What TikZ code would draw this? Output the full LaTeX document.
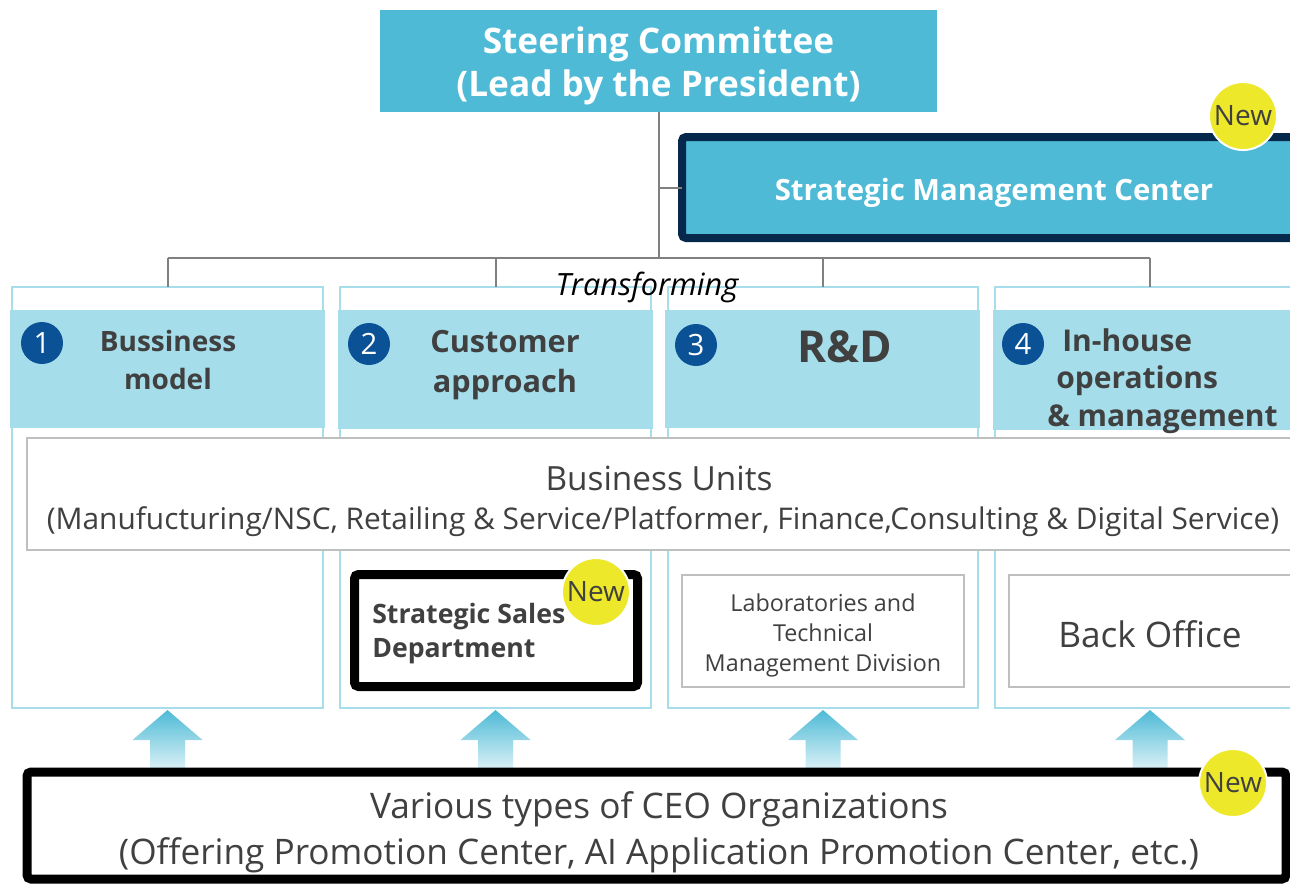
\documentclass[tikz,border=0pt]{standalone}
\usepackage{fontspec}
\setmainfont{Open Sans}
\usetikzlibrary{fit,calc}
\definecolor{cyanD}{HTML}{4EBAD6}
\definecolor{bandC}{HTML}{A5DEEA}
\definecolor{colB}{HTML}{A8DDEB}
\definecolor{navyB}{HTML}{06284A}
\definecolor{numB}{HTML}{0B5196}
\definecolor{yellowC}{HTML}{EDE829}
\definecolor{textG}{HTML}{404040}
\definecolor{lineG}{HTML}{808080}
\definecolor{grayB}{HTML}{BFBFBF}
\definecolor{arrowL}{HTML}{DDF2F8}
\newcommand{\fs}[2]{\fontsize{#1}{#2}\selectfont}
\tikzset{
  base/.style={inner sep=0pt, outer sep=0pt},
  colbox/.style={base, draw=colB, line width=1.5pt, fill=white},
  band/.style={base, fill=bandC},
  graybox/.style={base, draw=grayB, line width=1.5pt, fill=white},
  blackbox/.style={base, draw=black, line width=6.75pt, rounded corners=3pt, fill=white},
  badge/.style={circle, inner sep=0pt, fill=yellowC, draw=white, line width=1.5pt, minimum size=51pt, text=textG, font=\fs{21}{21}},
  num/.style={circle, inner sep=0pt, fill=numB, minimum size=31.5pt, text=white, font=\fs{22}{22}},
  head/.style={inner sep=0pt, text=textG, font=\bfseries\fs{21}{28}},
  conn/.style={draw=lineG, line width=1.5pt},
  txt/.style={inner sep=0pt, text=textG, align=center}
}
\begin{document}
\begin{tikzpicture}[x=0.75pt,y=-0.75pt]
\useasboundingbox (0,0) rectangle (1290,883);
\clip (0,0) rectangle (1290,883);

% columns
\node[colbox, fit={(12,287) (323,708)}] (col1) {};
\node[colbox, fit={(340,287) (651,708)}] (col2) {};
\node[colbox, fit={(668,287) (978,708)}] (col3) {};
\node[colbox, fit={(995,287) (1305,708)}] (col4) {};
\node[band, fit={(10,310) (325,428)}] (band1) {};
\node[band, fit={(338,310) (653,429)}] (band2) {};
\node[band, fit={(665,310) (980,428)}] (band3) {};
\node[band, fit={(993,310) (1310,430)}] (band4) {};

% numbers
\node[num] (n1) at (42,343) {1};
\node[num] (n2) at (369,344) {2};
\node[num] (n3) at (696,345) {3};
\node[num] (n4) at (1023,344) {4};

% header texts
\node[head, align=center] (h1) at (168,360) {Bussiness\\model};
\node[head, align=center, font=\bfseries\fs{23}{30}] (h2) at (505,365) {Customer\\approach};
\node[head, font=\bfseries\fs{33}{33}] (h3) at (845,347) {R\&D};
\node[head, align=left, anchor=west, font=\bfseries\fs{22.5}{28}] (h4) at (1047,381) {\hspace*{11.25pt}In-house\\\hspace*{6.75pt}operations\\\& management};

% steering committee
\node[base, fill=cyanD, fit={(380,10) (937,112)}] (steer) {};
\node[inner sep=0pt, text=white, align=center, font=\bfseries\fs{26.4}{32}] (steerT) at ($(steer.center)+(0,5)$) {Steering Committee\\(Lead by the President)};

% strategic management center
\node[base, draw=navyB, fill=cyanD, line width=6pt, rounded corners=3pt, fit={(682,137) (1310,238)}] (smc) {};
\node[inner sep=0pt, text=white, font=\bfseries\fs{22}{22}] (smcT) at (994,193) {Strategic Management Center};
\node[badge] (new1) at (1243,116) {New};

% connectors
\coordinate (jn) at (660,258);
\draw[conn] (steer.south) -- (steer.south |- jn);
\draw[conn] (steer.south |- smc.west) -- (smc.west);
\draw[conn] (col1.north |- jn) -- (col4.north |- jn);
\foreach \c in {col1,col2,col3,col4}{
  \draw[conn] (\c.north |- jn) -- (\c.north);
}
\node[inner sep=0pt, font=\itshape\fs{23}{23}] (trans) at (647,287) {Transforming};

% business units
\node[graybox, fit={(27,438) (1310,550)}] (bu) {};
\node[txt, font=\fs{25}{25}] (bu1) at (659,478) {Business Units};
\node[txt, font=\fs{22.4}{22.4}] (bu2) at (663,522) {(Manufucturing/NSC, Retailing \& Service/Platformer, Finance,Consulting \& Digital Service)};

% inner boxes
\node[blackbox, fit={(354.5,574.5) (637.5,686.5)}] (ssd) {};
\node[txt, align=left, anchor=west, font=\bfseries\fs{20}{25.5}] (ssdT) at (372,634) {Strategic Sales\\Department};
\node[badge] (new2) at (596,592) {New};

\node[graybox, fit={(682,575) (964,687)}] (lab) {};
\node[txt, font=\fs{17.5}{22.5}] (labT) at ($(lab.center)+(0,4)$) {Laboratories and\\Technical\\Management Division};

\node[graybox, fit={(1009,575) (1310,687)}] (bo) {};
\node[txt, font=\fs{26.4}{26.4}] (boT) at (1150,634) {Back Office};

% arrows
\foreach \c in {col1,col2,col3,col4}{
  \shade[top color=cyanD, bottom color=arrowL]
    ($(\c.south)+(0,2)$) -- ++(35,30) -- ++(-17.5,0) -- ++(0,30) -- ++(-35,0) -- ++(0,-30) -- ++(-17.5,0) -- cycle;
}

% CEO organisations
\node[blackbox, fit={(27,772) (1286,879)}] (ceo) {};
\node[txt, font=\fs{26.4}{34.5}] (ceoT) at (659,832) {Various types of CEO Organizations\\(Offering Promotion Center, AI Application Promotion Center, etc.)};
\node[badge] (new3) at (1233,783) {New};
\end{tikzpicture}
\end{document}
